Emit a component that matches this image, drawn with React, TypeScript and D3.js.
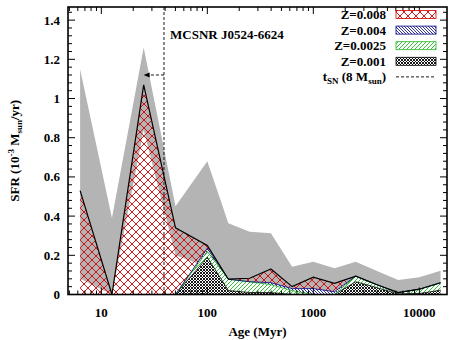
import React from "react";
import * as d3 from "d3";

// ---- data (ages in Myr, SFR in 1e-3 Msun/yr) ----
const ages = [6.31, 12.6, 25.1, 50.1, 100, 158, 251, 398, 631, 1000, 1585, 2512, 3981, 6310, 10000, 15849];
const z001 = [0, 0, 0, 0, 0.19, 0.02, 0.01, 0.01, 0, 0, 0, 0.065, 0.035, 0.003, 0.005, 0.022];
const z0025 = [0, 0, 0, 0, 0.03, 0.058, 0.055, 0.04, 0.02, 0, 0, 0.029, 0.015, 0.007, 0.022, 0.038];
const z004 = [0, 0, 0, 0, 0.015, 0, 0, 0.01, 0.01, 0.03, 0.014, 0, 0, 0, 0, 0];
const z008 = [0.53, 0, 1.07, 0.34, 0.015, 0, 0.018, 0.07, 0.01, 0.058, 0.043, 0, 0, 0, 0, 0];
const errUpper = [1.15, 0.39, 1.26, 0.45, 0.68, 0.363, 0.32, 0.312, 0.142, 0.167, 0.134, 0.167, 0.12, 0.074, 0.088, 0.121];
const errLower = [0.08, 0, 0.84, 0.2, 0.14, 0, 0, 0.02, 0, 0, 0, 0, 0, 0, 0, 0];
const tSN = 39; // Myr
const arrowTo = 25.1;
const arrowY = 1.12;
const xTickValues = [10, 100, 1000, 10000];
const xTickLabels = ["10", "100", "1000", "10000"];
const yTickValues = [0, 0.2, 0.4, 0.6, 0.8, 1, 1.2, 1.4];
const yTickLabels = ["0", "0.2", "0.4", "0.6", "0.8", "1", "1.2", "1.4"];
const seriesNames = ["Z=0.008", "Z=0.004", "Z=0.0025", "Z=0.001"];
const title = "MCSNR J0524-6624";

const W = 453, H = 340;
const L = 68, R = 447, T = 7, B = 294.5;
const FONT = "Liberation Serif, Times New Roman, Tinos, DejaVu Serif, serif";

export default function App() {
  const x = d3.scaleLog().domain([4.85, 18240]).range([L, R]);
  const y = d3.scaleLinear().domain([0, 1.467]).range([B, T]);

  const layers = [z001, z0025, z004, z008];
  const cum: number[][] = [];
  let base = ages.map(() => 0);
  cum.push(base);
  layers.forEach((lay) => {
    base = base.map((b, i) => b + lay[i]);
    cum.push(base);
  });

  const idx = ages.map((_, i) => i);
  const band = d3.area<number>()
    .x((i) => x(ages[i]))
    .y0((i) => y(errLower[i]))
    .y1((i) => y(errUpper[i]));
  const layerArea = (k: number) =>
    d3.area<number>().x((i) => x(ages[i])).y0((i) => y(cum[k][i])).y1((i) => y(cum[k + 1][i]))(idx) || "";
  const layerTop = (k: number) =>
    d3.line<number>().x((i) => x(ages[i])).y((i) => y(cum[k + 1][i]))(idx) || "";

  const xMinor: number[] = [];
  [1, 10, 100, 1000, 10000].forEach((d) => {
    for (let m = 2; m <= 9; m++) {
      const v = d * m;
      if (v > 4.85 && v < 18240) xMinor.push(v);
    }
  });
  const yMinor = d3.range(0, 1.467, 0.04).filter((v) => Math.abs(v / 0.2 - Math.round(v / 0.2)) > 1e-6);

  const layerStyles = [
    { fill: "url(#pBlack)", stroke: "#000000", bg: "white" },
    { fill: "url(#pGreen)", stroke: "#22b822", bg: "white" },
    { fill: "url(#pBlue)", stroke: "#000080", bg: "white" },
    { fill: "url(#pRed)", stroke: "#d40000", bg: "none" },
  ];

  const legendX = 386, legendRow0 = 14.5, legendDy = 15.6;
  const legendOrder = [3, 2, 1, 0];
  const textStyle = { fontFamily: FONT };

  return (
    <svg width={W} height={H} style={{ position: "absolute", left: 0, top: 0, background: "white" }}>
      <defs>
        <pattern id="pRed" patternUnits="userSpaceOnUse" width="8" height="8">
          <path d="M0,0L8,8M8,0L0,8" stroke="#d40000" strokeWidth="0.9" fill="none" />
        </pattern>
        <pattern id="pBlack" patternUnits="userSpaceOnUse" width="3" height="3">
          <path d="M0,0L3,3M3,0L0,3" stroke="#000" strokeWidth="0.9" fill="none" />
        </pattern>
        <pattern id="pGreen" patternUnits="userSpaceOnUse" width="4" height="4">
          <path d="M0,4L4,0M-1,1L1,-1M3,5L5,3" stroke="#22b822" strokeWidth="0.9" fill="none" />
        </pattern>
        <pattern id="pBlue" patternUnits="userSpaceOnUse" width="3" height="3">
          <path d="M0,0L3,3M-1,2L1,4M2,-1L4,1" stroke="#000080" strokeWidth="0.8" fill="none" />
        </pattern>
        <clipPath id="clip"><rect x={L} y={T} width={R - L} height={B - T} /></clipPath>
      </defs>

      <g clipPath="url(#clip)">
        <path d={band(idx) || ""} fill="#b4b4b4" />
        {layerStyles.map((s, k) => (
          <g key={k}>
            {s.bg !== "none" && <path d={layerArea(k)} fill={s.bg} />}
            <path d={layerArea(k)} fill={s.fill} />
          </g>
        ))}
        {layerStyles.slice(0, 3).map((s, k) => (
          <path key={k} d={layerTop(k)} fill="none" stroke={s.stroke} strokeWidth={0.8} />
        ))}
        <path d={layerTop(3)} fill="none" stroke="#000" strokeWidth={1.2} />
        <line x1={x(tSN)} x2={x(tSN)} y1={T} y2={B} stroke="#000" strokeWidth={0.9} strokeDasharray="3,2" />
        <line x1={x(tSN)} x2={x(arrowTo) + 5} y1={y(arrowY)} y2={y(arrowY)} stroke="#000" strokeWidth={0.9} strokeDasharray="3,2" />
        <path d={`M${x(arrowTo)},${y(arrowY)}l6,-2.5l0,5z`} fill="#000" />
      </g>

      <g stroke="#000" strokeWidth={1}>
        {xTickValues.map((v) => (
          <g key={v}>
            <line x1={x(v)} x2={x(v)} y1={B} y2={B - 7} />
            <line x1={x(v)} x2={x(v)} y1={T} y2={T + 7} />
          </g>
        ))}
        {xMinor.map((v) => (
          <g key={v}>
            <line x1={x(v)} x2={x(v)} y1={B} y2={B - 4} />
            <line x1={x(v)} x2={x(v)} y1={T} y2={T + 4} />
          </g>
        ))}
        {yTickValues.map((v) => (
          <g key={v}>
            <line x1={L} x2={L + 7} y1={y(v)} y2={y(v)} />
            <line x1={R} x2={R - 7} y1={y(v)} y2={y(v)} />
          </g>
        ))}
        {yMinor.map((v) => (
          <g key={v}>
            <line x1={L} x2={L + 4} y1={y(v)} y2={y(v)} />
            <line x1={R} x2={R - 4} y1={y(v)} y2={y(v)} />
          </g>
        ))}
      </g>
      <rect x={L} y={T} width={R - L} height={B - T} fill="none" stroke="#000" strokeWidth={1.6} />

      <g fontSize={13} fontWeight="bold" fill="#000" style={textStyle}>
        {xTickValues.map((v, i) => (
          <text key={v} x={x(v)} y={B + 22} textAnchor="middle" style={textStyle}>{xTickLabels[i]}</text>
        ))}
        {yTickValues.map((v, i) => (
          <text key={v} x={L - 8} y={y(v) + 4.5} textAnchor="end" style={textStyle}>{yTickLabels[i]}</text>
        ))}
        <text x={(L + R) / 2} y={336} textAnchor="middle" style={textStyle}>Age (Myr)</text>
        <text transform={`translate(19,${(T + B) / 2}) rotate(-90)`} textAnchor="middle" style={textStyle}>
          SFR (10<tspan dy={-5} fontSize={9}>-3</tspan><tspan dy={5}> M</tspan><tspan dy={3} fontSize={9}>sun</tspan><tspan dy={-3}>/yr)</tspan>
        </text>
        <text x={170} y={39} style={textStyle}>{title}</text>
      </g>

      <g fontSize={13} fontWeight="bold" style={textStyle}>
        {legendOrder.map((k, r) => {
          const cy = legendRow0 + r * legendDy;
          const s = layerStyles[k];
          return (
            <g key={k}>
              <text x={legendX} y={cy + 4.5} textAnchor="end" style={textStyle}>{seriesNames[r]}</text>
              <rect x={396} y={cy - 4} width={40} height={8} fill="white" />
              <rect x={396} y={cy - 4} width={40} height={8} fill={s.fill} stroke={s.stroke} strokeWidth={0.8} />
            </g>
          );
        })}
        <text x={legendX} y={legendRow0 + 4 * legendDy + 4.5} textAnchor="end" style={textStyle}>
          t<tspan dy={3} fontSize={9}>SN</tspan><tspan dy={-3}> (8 M</tspan><tspan dy={3} fontSize={9}>sun</tspan><tspan dy={-3}>)</tspan>
        </text>
        <line x1={396} x2={436} y1={legendRow0 + 4 * legendDy} y2={legendRow0 + 4 * legendDy} stroke="#000" strokeWidth={0.9} strokeDasharray="3,2" />
      </g>
    </svg>
  );
}
